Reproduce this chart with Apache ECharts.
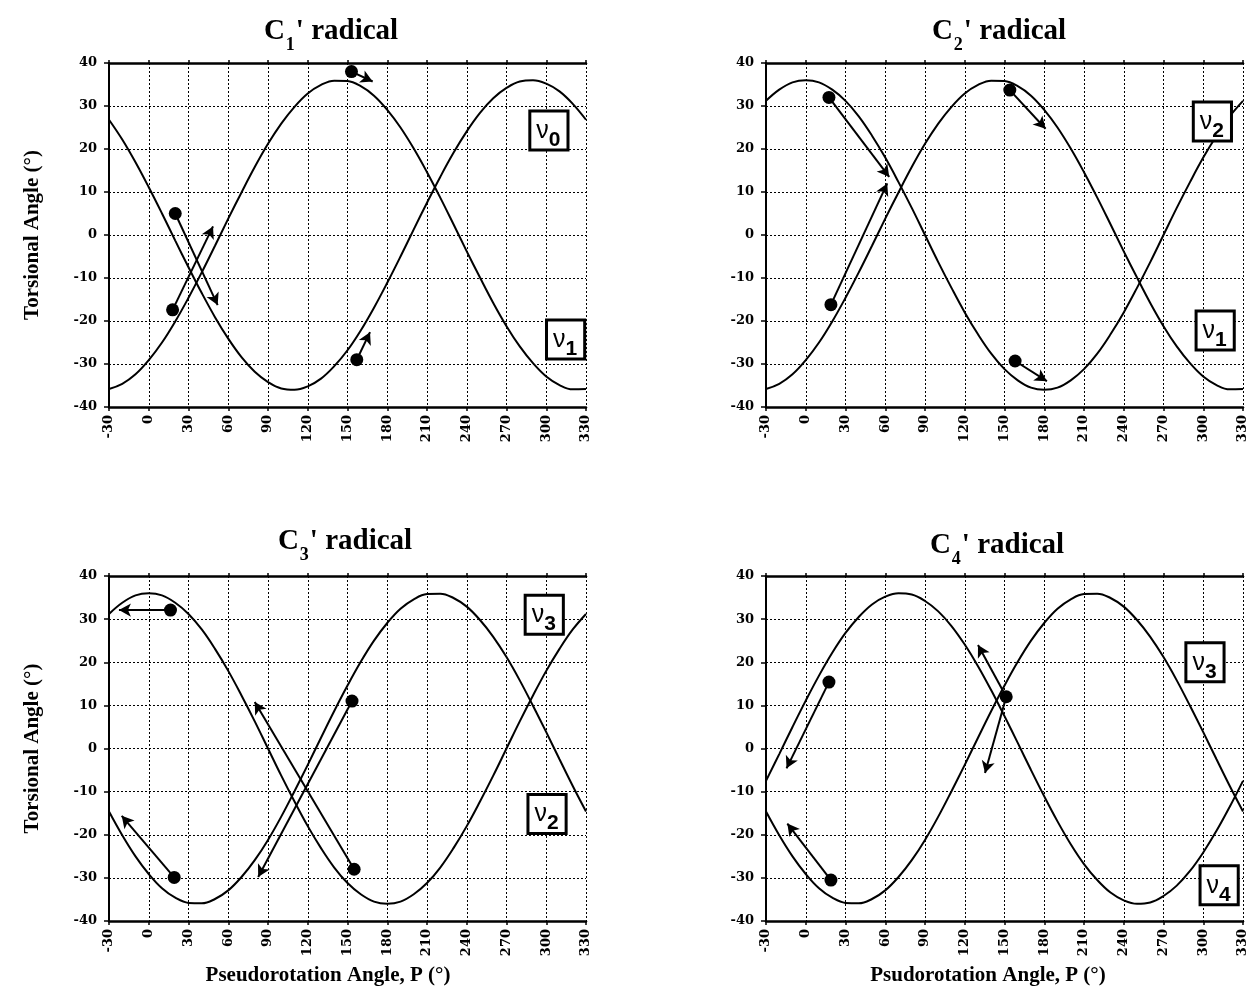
<!DOCTYPE html>
<html><head><meta charset="utf-8">
<script src="https://cdn.jsdelivr.net/npm/echarts@6/dist/echarts.min.js"></script>
<style>html,body{margin:0;padding:0;background:#fff}#c{width:1254px;height:989px}</style>
</head><body><div id="c"></div>
<script>
// ---------- DATA ----------
const pAngles = [-30,-20,-10,0,10,20,30,40,50,60,70,80,90,100,110,120,130,140,150,160,170,180,190,200,210,220,230,240,250,260,270,280,290,300,310,320,330];

// C1' radical
const c1CurveA = [-35.8,-34.6,-32.4,-29.1,-25.0,-20.1,-14.6,-8.7,-2.5,3.8,9.9,15.8,21.2,25.9,29.8,32.9,34.9,35.9,35.8,34.6,32.4,29.1,25.0,20.1,14.6,8.7,2.5,-3.8,-9.9,-15.8,-21.2,-25.9,-29.8,-32.9,-34.9,-35.9,-35.8];
const c1CurveB = [26.8,22.2,16.9,11.1,5.0,-1.3,-7.5,-13.5,-19.1,-24.1,-28.4,-31.8,-34.2,-35.7,-36.0,-35.2,-33.4,-30.5,-26.8,-22.2,-16.9,-11.1,-5.0,1.3,7.5,13.5,19.1,24.1,28.4,31.8,34.2,35.7,36.0,35.2,33.4,30.5,26.8];
const c1Dots = [[153,38],[20,5],[18,-17.4],[157,-29]];
const c1Arrows = [[[153,38],[169,35.7]],[[20,5],[52,-16.3]],[[18,-17.4],[48.5,2]],[[157,-29],[167,-22.6]]];
const c1Labels = ['0','1'];

// C2' radical
const c2CurveA = [31.2,33.8,35.5,36,35.5,33.8,31.2,27.6,23.1,18,12.3,6.3,0,-6.3,-12.3,-18,-23.1,-27.6,-31.2,-33.8,-35.5,-36,-35.5,-33.8,-31.2,-27.6,-23.1,-18,-12.3,-6.3,0,6.3,12.3,18,23.1,27.6,31.2];
const c2CurveB = [-35.8,-34.6,-32.4,-29.1,-25.0,-20.1,-14.6,-8.7,-2.5,3.8,9.9,15.8,21.2,25.9,29.8,32.9,34.9,35.9,35.8,34.6,32.4,29.1,25.0,20.1,14.6,8.7,2.5,-3.8,-9.9,-15.8,-21.2,-25.9,-29.8,-32.9,-34.9,-35.9,-35.8];
const c2Dots = [[17.5,32],[19,-16.2],[154,33.7],[158,-29.3]];
const c2Arrows = [[[17.5,32],[63,13.5]],[[19,-16.2],[61.5,12]],[[154,33.7],[181,24.7]],[[158,-29.3],[182,-34]]];
const c2Labels = ['2','1'];

// C3' radical
const c3CurveA = [31.2,33.8,35.5,36,35.5,33.8,31.2,27.6,23.1,18,12.3,6.3,0,-6.3,-12.3,-18,-23.1,-27.6,-31.2,-33.8,-35.5,-36,-35.5,-33.8,-31.2,-27.6,-23.1,-18,-12.3,-6.3,0,6.3,12.3,18,23.1,27.6,31.2];
const c3CurveB = [-14.6,-20.1,-25.0,-29.1,-32.4,-34.6,-35.8,-35.9,-34.9,-32.9,-29.8,-25.9,-21.2,-15.8,-9.9,-3.8,2.5,8.7,14.6,20.1,25.0,29.1,32.4,34.6,35.8,35.9,34.9,32.9,29.8,25.9,21.2,15.8,9.9,3.8,-2.5,-8.7,-14.6];
const c3Dots = [[16.4,32.1],[153.4,11],[155,-28],[19.2,-29.9]];
const c3Arrows = [[[16.4,32.1],[-22.5,32.1]],[[153.4,11],[82.6,-29.8]],[[155,-28],[80,10.8]],[[19.2,-29.9],[-20.4,-15.6]]];
const c3Labels = ['3','2'];

// C4' radical
const c4CurveA = [-7.5,-1.3,5.0,11.1,16.9,22.2,26.8,30.5,33.4,35.2,36.0,35.7,34.2,31.8,28.4,24.1,19.1,13.5,7.5,1.3,-5.0,-11.1,-16.9,-22.2,-26.8,-30.5,-33.4,-35.2,-36.0,-35.7,-34.2,-31.8,-28.4,-24.1,-19.1,-13.5,-7.5];
const c4CurveB = [-14.6,-20.1,-25.0,-29.1,-32.4,-34.6,-35.8,-35.9,-34.9,-32.9,-29.8,-25.9,-21.2,-15.8,-9.9,-3.8,2.5,8.7,14.6,20.1,25.0,29.1,32.4,34.6,35.8,35.9,34.9,32.9,29.8,25.9,21.2,15.8,9.9,3.8,-2.5,-8.7,-14.6];
const c4Dots = [[17.5,15.4],[151.3,12],[19,-30.5]];
const c4Arrows = [[[17.5,15.4],[-14.5,-4.6]],[[151.3,12],[130,24]],[[151.3,12],[135.3,-5.7]],[[19,-30.5],[-13.9,-17.4]]];
const c4Labels = ['3','4'];

const titleSubs = ['1','2','3','4'];
const xNames = ['Pseudorotation Angle, P (°)', 'Psudorotation Angle, P (°)'];
const yName = 'Torsional Angle (°)';

// ---------- LAYOUT ----------
const gridBoxes = [
  {left:109, top:63, width:477, height:344},
  {left:766, top:63, width:477, height:344},
  {left:109, top:576, width:477, height:345},
  {left:766, top:576, width:477, height:345}
];
const titlePos = [[331,17],[999,17],[345,527],[997,531]];
const xNamePos = [[328,976],[988,976]];
const labelPos = [
  [[302,24.3],[314.6,-24.3]],
  [[306.9,26.4],[309,-22.2]],
  [[298.5,31],[300.6,-15.2]],
  [[301.3,20],[312,-31.7]]
];
const hasYName = [true,false,true,false];

const panels = [
  {curves:[c1CurveA,c1CurveB], dots:c1Dots, arrows:c1Arrows, labels:c1Labels},
  {curves:[c2CurveA,c2CurveB], dots:c2Dots, arrows:c2Arrows, labels:c2Labels},
  {curves:[c3CurveA,c3CurveB], dots:c3Dots, arrows:c3Arrows, labels:c3Labels},
  {curves:[c4CurveA,c4CurveB], dots:c4Dots, arrows:c4Arrows, labels:c4Labels}
];

const SERIF = "'Liberation Serif','Times New Roman',serif";
const TICKF = "'DejaVu Serif',serif";
const SANS = "'Liberation Sans',Arial,sans-serif";
const dotted = {type:[2,2], color:'#000', width:1};

const grid = gridBoxes.map(g => Object.assign({containLabel:false}, g));
const xAxis = [];
const yAxis = [];
gridBoxes.forEach((g,i) => {
  xAxis.push({
    gridIndex:i, type:'value', min:-30, max:330, interval:30, position:'bottom',
    axisLine:{show:true, onZero:false, lineStyle:{color:'#000', width:2.5}},
    axisTick:{show:true, length:4, lineStyle:{color:'#000', width:1.5}},
    axisLabel:{rotate:90, fontFamily:TICKF, fontWeight:'bold', fontSize:13, color:'#000', margin:8},
    splitLine:{show:true, lineStyle:dotted}
  });
});
gridBoxes.forEach((g,i) => {
  xAxis.push({
    gridIndex:i, type:'value', min:-30, max:330, interval:30, position:'top',
    axisLine:{show:true, onZero:false, lineStyle:{color:'#000', width:2.5}},
    axisTick:{show:true, length:3, lineStyle:{color:'#000', width:1.5}},
    axisLabel:{show:false}, splitLine:{show:false}
  });
  yAxis.push({
    gridIndex:i, type:'value', min:-40, max:40, interval:10,
    name: hasYName[i] ? yName : '', nameLocation:'middle', nameGap:66, nameRotate:90,
    nameTextStyle:{fontFamily:SERIF, fontWeight:'bold', fontSize:21, color:'#000'},
    axisLine:{show:true, onZero:false, lineStyle:{color:'#000', width:2}},
    axisTick:{show:true, length:5, lineStyle:{color:'#000', width:1.5}},
    axisLabel:{fontFamily:TICKF, fontWeight:'bold', fontSize:13, color:'#000', margin:12},
    splitLine:{show:true, lineStyle:dotted}
  });
});

const series = [];
panels.forEach((pn,i) => {
  pn.curves.forEach(c => {
    series.push({
      type:'line', xAxisIndex:i, yAxisIndex:i, smooth:0.4, showSymbol:false, silent:true,
      data: pAngles.map((p,k) => [p, c[k]]),
      lineStyle:{color:'#000', width:2}, z:3
    });
  });
  series.push({
    type:'scatter', xAxisIndex:i, yAxisIndex:i, symbolSize:13, silent:true,
    itemStyle:{color:'#000', opacity:1}, data: pn.dots, z:5,
    markLine:{
      silent:true, symbol:['none','arrow'], symbolSize:[10,12],
      lineStyle:{type:'solid', color:'#000', width:2, opacity:1}, label:{show:false},
      itemStyle:{color:'#000', opacity:1},
      data: pn.arrows.map(a => [{coord:a[0]},{coord:a[1]}]),
      animation:false
    }
  });
  series.push({
    type:'scatter', xAxisIndex:i, yAxisIndex:i, symbolSize:1, silent:true, z:6,
    itemStyle:{color:'rgba(0,0,0,0)', opacity:1},
    data: labelPos[i].map((pos,k) => ({value:pos, sub:pn.labels[k]})),
    label:{
      show:true, position:'inside', opacity:1,
      formatter: p => '{v|ν}{s|' + p.data.sub + '}',
      backgroundColor:'#fff', borderColor:'#000', borderWidth:3,
      padding:[6,6,6,5],
      rich:{
        v:{fontFamily:SANS, fontSize:25, color:'#000', lineHeight:24, verticalAlign:'top'},
        s:{fontFamily:SANS, fontSize:21, fontWeight:'bold', color:'#000', lineHeight:20, padding:[11,0,0,0], verticalAlign:'top'}
      }
    }
  });
});

const title = titleSubs.map((s,i) => ({
  text:'{c|C}{s|' + s + '}{c|\' radical}',
  left:titlePos[i][0], top:titlePos[i][1], textAlign:'center', padding:0,
  textStyle:{
    rich:{
      c:{fontFamily:SERIF, fontWeight:'bold', fontSize:29, color:'#000', lineHeight:29, verticalAlign:'top'},
      s:{fontFamily:SERIF, fontWeight:'bold', fontSize:18, color:'#000', lineHeight:18, padding:[19,1,0,1], verticalAlign:'top'}
    }
  }
}));

const graphic = xNames.map((t,i) => ({
  type:'text', x:xNamePos[i][0], y:xNamePos[i][1], silent:true,
  style:{text:t, fill:'#000', font:"bold 21px 'Liberation Serif', serif", align:'center', verticalAlign:'middle'}
}));

const chart = echarts.init(document.getElementById('c'), null, {renderer:'canvas'});
chart.setOption({animation:false, backgroundColor:'#fff', title, grid, xAxis, yAxis, series, graphic});
</script></body></html>
